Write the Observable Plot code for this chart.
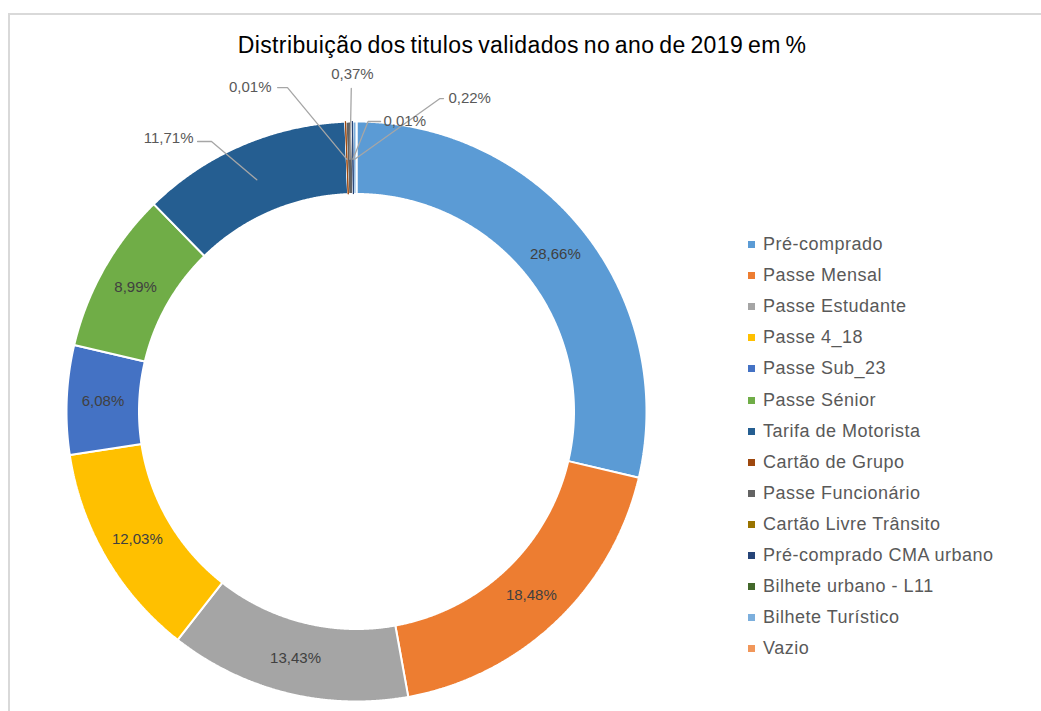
<!DOCTYPE html>
<html>
<head>
<meta charset="utf-8">
<script src="https://cdn.jsdelivr.net/npm/d3@7"></script>
<script src="https://cdn.jsdelivr.net/npm/@observablehq/plot@0.6"></script>
<style>
  html, body { margin: 0; padding: 0; background: #fff; }
  #wrap { position: relative; width: 1041px; height: 711px; overflow: hidden; font-family: "Liberation Sans", Arial, sans-serif; }
  #frame { position: absolute; left: 8px; top: 13px; width: 1100px; height: 800px; border-left: 2px solid #d9d9d9; border-top: 2px solid #d9d9d9; }
  #title { position: absolute; left: 0; width: 1044px; top: 33px; text-align: center; font-size: 23px; line-height: 24px; color: #000; word-spacing: -2px; letter-spacing: 0.4px; }
  #chart { position: absolute; left: 0; top: 60px; }
  #legend { position: absolute; left: 748px; top: 229px; }
  .item { height: 31.1px; display: flex; align-items: center; font-size: 18px; letter-spacing: 0.5px; color: #595959; white-space: nowrap; }
  .sw { width: 7px; height: 7px; margin-right: 8px; flex: none; }
</style>
</head>
<body>
<div id="wrap">
  <div id="frame"></div>
  <div id="title"></div>
  <div id="chart"></div>
  <div id="legend"></div>
</div>
<script>
// ---- data ----
const categories = [
  "Pré-comprado", "Passe Mensal", "Passe Estudante", "Passe 4_18", "Passe Sub_23",
  "Passe Sénior", "Tarifa de Motorista", "Cartão de Grupo", "Passe Funcionário",
  "Cartão Livre Trânsito", "Pré-comprado CMA urbano", "Bilhete urbano - L11",
  "Bilhete Turístico", "Vazio"
];
const values = [28.66, 18.48, 13.43, 12.03, 6.08, 8.99, 11.71, 0.01, 0.37, 0, 0.01, 0, 0.22, 0];
const colors = [
  "#5B9BD5", "#ED7D31", "#A5A5A5", "#FFC000", "#4472C4", "#70AD47", "#255E91",
  "#9E480E", "#636363", "#997300", "#264478", "#43682B", "#7CAFDD", "#F1975A"
];
const titleText = "Distribuição dos titulos validados no ano de 2019 em %";

// ---- layout (separate from data) ----
const W = 1041, H = 651;          // svg size
const CX = 356, CY = 351, R = 290; // donut center / radius in svg pixels
const HOLE = 0.75;
// outside labels: text position + leader elbow points (radius units, y up)
const outsideLabels = {
  "Tarifa de Motorista":     {tx: -0.562, ty: 0.941, anchor: "end",    pts: [[-0.548, 0.931], [-0.50, 0.931]]},
  "Cartão de Grupo":         {tx: -0.293, ty: 1.117, anchor: "end",    pts: [[-0.272, 1.117], [-0.238, 1.117]]},
  "Passe Funcionário":       {tx: -0.014, ty: 1.162, anchor: "middle", pts: [[-0.018, 1.114]]},
  "Bilhete Turístico":       {tx: 0.317,  ty: 1.079, anchor: "start",  pts: [[0.300, 1.079], [0.288, 1.079]]},
  "Pré-comprado CMA urbano": {tx: 0.093,  ty: 1.000, anchor: "start",  pts: [[0.083, 1.000], [0.040, 1.000]]}
};

const rows = categories.map((c, i) => ({cat: c, value: values[i], color: colors[i]}));
const arcs = d3.pie().sort(null).value(d => d.value).startAngle(0).endAngle(2 * Math.PI)(rows);

const fmt = v => v.toFixed(2).replace(".", ",") + "%";

// slice outlines
const ring = [];
arcs.forEach(a => {
  if (a.data.value <= 0) return;
  const n = Math.max(2, Math.ceil((a.endAngle - a.startAngle) / 0.004));
  const base = {cat: a.data.cat, color: a.data.color, value: a.data.value};
  for (let k = 0; k <= n; k++) {
    const t = a.startAngle + (a.endAngle - a.startAngle) * k / n;
    ring.push({...base, x: Math.sin(t), y: Math.cos(t)});
  }
  for (let k = n; k >= 0; k--) {
    const t = a.startAngle + (a.endAngle - a.startAngle) * k / n;
    ring.push({...base, x: HOLE * Math.sin(t), y: HOLE * Math.cos(t)});
  }
  ring.push({...base, x: Math.sin(a.startAngle), y: Math.cos(a.startAngle)});
});

// labels
const inside = [], outside = [], leaders = [];
arcs.forEach(a => {
  if (a.data.value <= 0) return;
  const mid = (a.startAngle + a.endAngle) / 2;
  const o = outsideLabels[a.data.cat];
  if (!o) {
    inside.push({x: 0.875 * Math.sin(mid), y: 0.875 * Math.cos(mid), text: fmt(a.data.value)});
  } else {
    outside.push({x: o.tx, y: o.ty, text: fmt(a.data.value), anchor: o.anchor});
    o.pts.forEach(p => leaders.push({cat: a.data.cat, x: p[0], y: p[1]}));
    leaders.push({cat: a.data.cat, x: 0.87 * Math.sin(mid), y: 0.87 * Math.cos(mid)});
  }
});

const xDomain = [-CX / R, (W - CX) / R];
const yDomain = [-(H - CY) / R, CY / R];

const plot = Plot.plot({
  width: W, height: H,
  margin: 0,
  x: {domain: xDomain, axis: null},
  y: {domain: yDomain, axis: null},
  color: {type: "identity"},
  marks: [
    Plot.line(ring, {x: "x", y: "y", z: "cat", fill: "color", stroke: "white", strokeWidth: 2, curve: "linear", strokeLinejoin: "miter"}),
    Plot.line(ring.filter(d => d.value < 0.05), {x: "x", y: "y", z: "cat", fill: "color", stroke: "color", strokeWidth: 1, curve: "linear"}),
    Plot.line(leaders, {x: "x", y: "y", z: "cat", stroke: "#a6a6a6", strokeWidth: 1.3, curve: "linear", strokeLinejoin: "miter"}),
    Plot.text(inside, {x: "x", y: "y", text: "text", fill: "#404040", fontSize: 15}),
    Plot.text(outside.filter(d => d.anchor === "end"), {x: "x", y: "y", text: "text", fill: "#595959", fontSize: 15, textAnchor: "end"}),
    Plot.text(outside.filter(d => d.anchor === "start"), {x: "x", y: "y", text: "text", fill: "#595959", fontSize: 15, textAnchor: "start"}),
    Plot.text(outside.filter(d => d.anchor === "middle"), {x: "x", y: "y", text: "text", fill: "#595959", fontSize: 15, textAnchor: "middle"})
  ]
});
plot.style.fontFamily = '"Liberation Sans", Arial, sans-serif';
document.getElementById("chart").appendChild(plot);
document.getElementById("title").textContent = titleText;

const legend = document.getElementById("legend");
rows.forEach(r => {
  const it = document.createElement("div");
  it.className = "item";
  const sw = document.createElement("span");
  sw.className = "sw";
  sw.style.background = r.color;
  const tx = document.createElement("span");
  tx.textContent = r.cat;
  it.appendChild(sw); it.appendChild(tx);
  legend.appendChild(it);
});
</script>
</body>
</html>
